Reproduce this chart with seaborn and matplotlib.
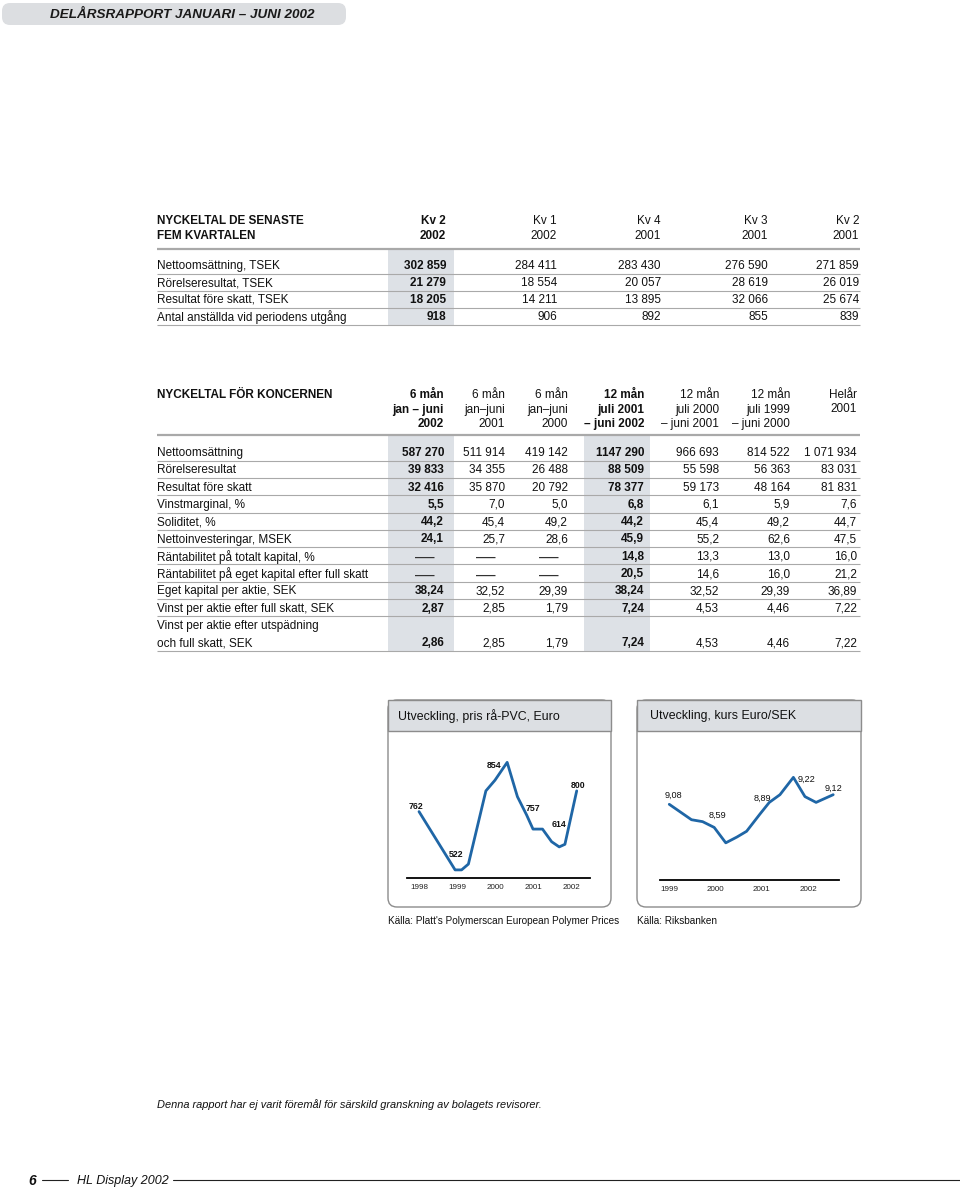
import matplotlib.pyplot as plt
import pandas as pd
import seaborn as sns
from matplotlib.patches import FancyBboxPatch, Rectangle

# ---- Nyckeltal de senaste fem kvartalen ----
quarter_heads = [("Kv 2", "2002"), ("Kv 1", "2002"), ("Kv 4", "2001"), ("Kv 3", "2001"), ("Kv 2", "2001")]
quarter_rows = ["Nettoomsättning, TSEK", "Rörelseresultat, TSEK", "Resultat före skatt, TSEK",
                "Antal anställda vid periodens utgång"]
kv2_2002 = ["302 859", "21 279", "18 205", "918"]
kv1_2002 = ["284 411", "18 554", "14 211", "906"]
kv4_2001 = ["283 430", "20 057", "13 895", "892"]
kv3_2001 = ["276 590", "28 619", "32 066", "855"]
kv2_2001 = ["271 859", "26 019", "25 674", "839"]
quarter_cols = [kv2_2002, kv1_2002, kv4_2001, kv3_2001, kv2_2001]

# ---- Nyckeltal för koncernen ----
group_heads = [("6 mån", "jan – juni", "2002"), ("6 mån", "jan–juni", "2001"), ("6 mån", "jan–juni", "2000"),
               ("12 mån", "juli 2001", "– juni 2002"), ("12 mån", "juli 2000", "– juni 2001"),
               ("12 mån", "juli 1999", "– juni 2000"), ("Helår", "2001", "")]
group_rows = ["Nettoomsättning", "Rörelseresultat", "Resultat före skatt", "Vinstmarginal, %", "Soliditet, %",
              "Nettoinvesteringar, MSEK", "Räntabilitet på totalt kapital, %",
              "Räntabilitet på eget kapital efter full skatt", "Eget kapital per aktie, SEK",
              "Vinst per aktie efter full skatt, SEK", "Vinst per aktie efter utspädning\noch full skatt, SEK"]
m6_2002 = ["587 270", "39 833", "32 416", "5,5", "44,2", "24,1", "—", "—", "38,24", "2,87", "2,86"]
m6_2001 = ["511 914", "34 355", "35 870", "7,0", "45,4", "25,7", "—", "—", "32,52", "2,85", "2,85"]
m6_2000 = ["419 142", "26 488", "20 792", "5,0", "49,2", "28,6", "—", "—", "29,39", "1,79", "1,79"]
m12_2002 = ["1147 290", "88 509", "78 377", "6,8", "44,2", "45,9", "14,8", "20,5", "38,24", "7,24", "7,24"]
m12_2001 = ["966 693", "55 598", "59 173", "6,1", "45,4", "55,2", "13,3", "14,6", "32,52", "4,53", "4,53"]
m12_2000 = ["814 522", "56 363", "48 164", "5,9", "49,2", "62,6", "13,0", "16,0", "29,39", "4,46", "4,46"]
helar_2001 = ["1 071 934", "83 031", "81 831", "7,6", "44,7", "47,5", "16,0", "21,2", "36,89", "7,22", "7,22"]
group_cols = [m6_2002, m6_2001, m6_2000, m12_2002, m12_2001, m12_2000, helar_2001]
bold_cols = [0, 3]

# ---- charts ----
pvc_year = [1998.0, 1998.95, 1999.12, 1999.30, 1999.76, 2000.0, 2000.32, 2000.59,
            2000.83, 2001.0, 2001.25, 2001.49, 2001.69, 2001.84, 2002.15]
pvc_price = [702, 522, 522, 540, 766, 799, 854, 748, 692, 648, 648, 609, 593, 601, 766]
pvc_labels = ["762", "522", "854", "757", "614", "800"]
pvc_label_idx = [0, 1, 6, 9, 12, 14]
pvc_ticks = [1998, 1999, 2000, 2001, 2002]

eur_year = [1999.0, 1999.48, 1999.72, 1999.97, 2000.22, 2000.46, 2000.67,
            2000.96, 2001.16, 2001.39, 2001.68, 2001.93, 2002.17, 2002.54]
eur_sek = [9.08, 9.00, 8.99, 8.96, 8.88, 8.91, 8.94, 9.03, 9.09, 9.13, 9.22, 9.12, 9.09, 9.13]
eur_labels = ["9,08", "8,59", "8,89", "9,22", "9,12"]
eur_label_idx = [0, 3, 7, 10, 13]
eur_ticks = [1999, 2000, 2001, 2002]

sns.set_theme(style="white")
plt.rcParams["font.family"] = ["Liberation Sans", "DejaVu Sans"]

SHADE = "#dde1e6"
RULE = "#a9a9a9"
BLUE = "#1f66a6"
FS = 8.5

fig = plt.figure(figsize=(9.6, 11.88), dpi=100)
bg = fig.add_axes([0, 0, 1, 1])
bg.set_xlim(0, 960)
bg.set_ylim(1188, 0)
bg.axis("off")


def txt(x, y, s, bold=False, ha="left", **kw):
    bg.text(x, y + 1, s, ha=ha, va="center", fontsize=kw.pop("fontsize", FS),
            fontweight="bold" if bold else "normal", color=kw.pop("color", "#111111"), **kw)


def rule(y, lw=0.8, x0=157, x1=860):
    bg.plot([x0, x1], [y, y], color=RULE, lw=lw, solid_capstyle="butt")


# banner
bg.add_patch(FancyBboxPatch((2, 3), 344, 22, boxstyle="round,pad=0,rounding_size=8",
                            fc="#dcdee1", ec="none"))
txt(182, 14, "DELÅRSRAPPORT JANUARI – JUNI 2002", bold=True, ha="center",
    style="italic", fontsize=9.7, color="#1a1a1a")

# table 1
q_x = [446, 557, 661, 768, 859]
bg.add_patch(Rectangle((388, 250), 66, 75, fc=SHADE, ec="none"))
txt(157, 220, "NYCKELTAL DE SENASTE", bold=True)
txt(157, 235, "FEM KVARTALEN", bold=True)
for i, (a, b) in enumerate(quarter_heads):
    txt(q_x[i], 220, a, bold=(i == 0), ha="right")
    txt(q_x[i], 235, b, bold=(i == 0), ha="right")
rule(249, lw=1.6)
q_y = [265, 282, 299, 316]
for r, label in enumerate(quarter_rows):
    txt(157, q_y[r], label)
    for c, col in enumerate(quarter_cols):
        txt(q_x[c], q_y[r], col[r], bold=(c == 0), ha="right")
    rule(q_y[r] + 8.5)

# table 2
t_x = [444, 505, 568, 644, 719, 790, 857]
bg.add_patch(Rectangle((388, 436), 66, 215, fc=SHADE, ec="none"))
bg.add_patch(Rectangle((584, 436), 66, 215, fc=SHADE, ec="none"))
txt(157, 394, "NYCKELTAL FÖR KONCERNEN", bold=True)
for i, head in enumerate(group_heads):
    for j, line in enumerate(head):
        txt(t_x[i], [394, 408.5, 423][j], line, bold=(i in bold_cols), ha="right")
rule(435, lw=1.6)
step = 17.3
for r, label in enumerate(group_rows):
    y = 452 + r * step
    if "\n" in label:
        first, second = label.split("\n")
        txt(157, y, first)
        y = y + step
        txt(157, y, second)
    else:
        txt(157, y, label)
    for c, col in enumerate(group_cols):
        if col[r] == "—":
            txt(t_x[c] - 19, y + 1, col[r], ha="center", fontsize=14, color="#333333")
        else:
            txt(t_x[c], y, col[r], bold=(c in bold_cols), ha="right")
    rule(y + 8.6)


# chart frames
def frame(x0, x1, title, source, pad):
    bg.add_patch(FancyBboxPatch((x0, 700), x1 - x0, 207, boxstyle="round,pad=0,rounding_size=9",
                                fc="white", ec="#8c8c8c", lw=1.0))
    bg.add_patch(Rectangle((x0, 700), x1 - x0, 31, fc="#dcdfe3", ec="#8c8c8c", lw=1.0))
    txt(x0 + pad, 715, title, fontsize=8.9)
    txt(x0, 920, source, fontsize=7.2)


frame(388, 611, "Utveckling, pris rå-PVC, Euro", "Källa: Platt's Polymerscan European Polymer Prices", 10)
frame(637, 861, "Utveckling, kurs Euro/SEK", "Källa: Riksbanken", 13)


def chart(px0, px1, py_top, py_bot, df, x, y, xlim, ylim, ticks, labels, idx, offsets, weight, lsize):
    ax = fig.add_axes([px0 / 960, 1 - py_bot / 1188, (px1 - px0) / 960, (py_bot - py_top) / 1188])
    ax.set_facecolor("none")
    sns.lineplot(data=df, x=x, y=y, ax=ax, color=BLUE, linewidth=2.0)
    ax.set_xlim(*xlim)
    ax.set_ylim(*ylim)
    ax.set_xticks(ticks)
    ax.set_xticklabels([str(t) for t in ticks])
    ax.set_yticks([])
    ax.set_xlabel("")
    ax.set_ylabel("")
    ax.tick_params(axis="x", length=0, pad=4, labelsize=5.8, colors="#222222")
    sns.despine(ax=ax, left=True)
    ax.spines["bottom"].set_color("black")
    ax.spines["bottom"].set_linewidth(1.3)
    for lab, i, off in zip(labels, idx, offsets):
        ax.annotate(lab, (df[x][i], df[y][i]), xytext=off, textcoords="offset pixels",
                    ha="center", va="center", fontsize=lsize, fontweight=weight, color="#111111")
    return ax


pvc = pd.DataFrame({"year": pvc_year, "price": pvc_price})
chart(407, 590, 740, 878, pvc, "year", "price", (1997.684, 2002.5), (497, 923), pvc_ticks,
      pvc_labels, pvc_label_idx, [(-3, 5), (1, 15), (-13, -3), (0, 21), (0, 22), (1, 5)], "bold", 6.3)

eur = pd.DataFrame({"year": eur_year, "kurs": eur_sek})
chart(660, 839, 740, 880, eur, "year", "kurs", (1998.80, 2002.665), (8.687, 9.414), eur_ticks,
      eur_labels, eur_label_idx, [(4, 9), (3, 12), (2, 16), (13, -2), (0, 6)], "normal", 6.6)

# footer
txt(157, 1104, "Denna rapport har ej varit föremål för särskild granskning av bolagets revisorer.",
    style="italic", fontsize=7.9)
txt(28, 1180, "6", bold=True, style="italic", fontsize=10)
bg.plot([42, 68], [1180, 1180], color="#222222", lw=0.8)
txt(77, 1180, "HL Display 2002", style="italic", fontsize=9)
bg.plot([173, 960], [1180, 1180], color="#222222", lw=0.8)

fig.savefig("out.png", dpi=100)
